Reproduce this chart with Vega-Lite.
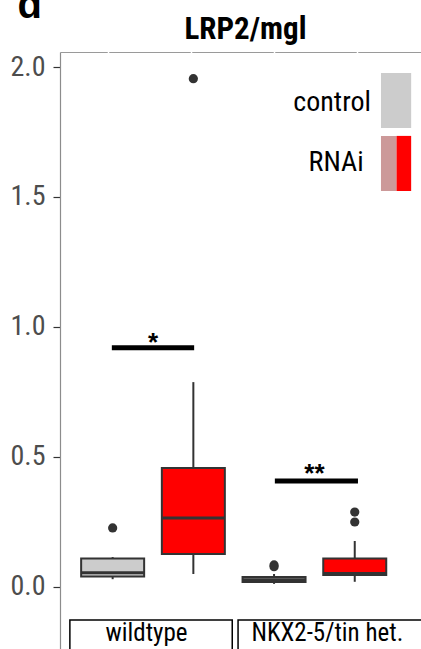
{
  "$schema": "https://vega.github.io/schema/vega-lite/v6.json",
  "width": 361,
  "height": 597,
  "autosize": {"type": "none"},
  "padding": {"left": 60, "top": 52, "right": 0, "bottom": 0},
  "background": "white",
  "config": {"view": {"stroke": null}},
  "datasets": {
    "boxes": [
      {"group": "wildtype", "cond": "control", "pos": 1, "lo": 0.03, "q1": 0.04, "med": 0.055, "q3": 0.11, "hi": 0.115},
      {"group": "wildtype", "cond": "RNAi", "pos": 2, "lo": 0.05, "q1": 0.127, "med": 0.265, "q3": 0.458, "hi": 0.788},
      {"group": "NKX2-5/tin het.", "cond": "control", "pos": 3, "lo": 0.012, "q1": 0.019, "med": 0.028, "q3": 0.038, "hi": 0.05},
      {"group": "NKX2-5/tin het.", "cond": "RNAi", "pos": 4, "lo": 0.02, "q1": 0.046, "med": 0.052, "q3": 0.11, "hi": 0.177}
    ],
    "outliers": [
      {"pos": 2, "v": 1.955},
      {"pos": 1, "v": 0.227},
      {"pos": 3, "v": 0.085},
      {"pos": 3, "v": 0.078},
      {"pos": 4, "v": 0.288},
      {"pos": 4, "v": 0.25}
    ],
    "sig": [
      {"from": 0.99, "to": 2.01, "v": 0.92, "label": "*", "mid": 1.5, "tv": 0.908},
      {"from": 3.01, "to": 4.04, "v": 0.408, "label": "**", "mid": 3.5, "tv": 0.404}
    ],
    "legendRects": [
      {"key": "control", "x1": 4.325, "x2": 4.699, "y1": 1.977, "y2": 1.765},
      {"key": "RNAi_light", "x1": 4.325, "x2": 4.518, "y1": 1.735, "y2": 1.523},
      {"key": "RNAi", "x1": 4.518, "x2": 4.699, "y1": 1.735, "y2": 1.523}
    ],
    "legendText": [
      {"label": "control", "x": 4.2, "y": 1.862},
      {"label": "RNAi", "x": 4.11, "y": 1.631}
    ],
    "strips": [
      {"label": "wildtype", "x1": 0.47, "x2": 2.482, "mid": 1.42, "top": -0.127, "bot": -0.3, "ty": -0.2077},
      {"label": "NKX2-5/tin het.", "x1": 2.554, "x2": 4.9, "mid": 3.66, "top": -0.127, "bot": -0.3, "ty": -0.2077}
    ]
  },
  "layer": [
    {
      "data": {"name": "boxes"},
      "mark": {"type": "rule", "color": "#333333", "strokeWidth": 2},
      "encoding": {
        "x": {"field": "pos", "type": "quantitative",
          "scale": {"domain": [0.4096, 4.759], "nice": false, "zero": false},
          "axis": {"orient": "top", "labels": false, "ticks": false, "grid": false,
            "domain": true, "domainColor": "#9a9a9a", "domainWidth": 1.2,
            "domainDash": [81.5, 1.5], "domainDashOffset": 34.25,
            "title": "LRP2/mgl", "titleFont": "Roboto Condensed, Liberation Sans Narrow, Roboto", "titleFontSize": 31,
            "titleFontWeight": "bold", "titleColor": "black", "titleAlign": "center", "titleBaseline": "alphabetic",
            "titleX": 185, "titleY": -14}},
        "y": {"field": "lo", "type": "quantitative",
          "scale": {"domain": [-0.2385, 2.0577], "nice": false, "zero": false},
          "axis": {"values": [0, 0.5, 1, 1.5, 2], "format": ".1f", "grid": false,
            "domainColor": "#8c8c8c", "domainWidth": 1.2,
            "tickColor": "#333333", "tickSize": 7, "tickWidth": 1.2,
            "labelFont": "Roboto Condensed, Liberation Sans Narrow, Roboto", "labelFontSize": 28, "labelColor": "#4d4d4d", "labelPadding": 8,
            "title": "d", "titleAngle": 0, "titleAlign": "left", "titleBaseline": "alphabetic",
            "titleX": -43, "titleY": -35, "titleFont": "Liberation Sans", "titleFontSize": 40,
            "titleFontWeight": "bold", "titleColor": "black"}},
        "y2": {"field": "hi"}
      }
    },
    {
      "data": {"name": "boxes"},
      "mark": {"type": "bar", "size": 63, "stroke": "#333333", "strokeWidth": 2},
      "encoding": {
        "x": {"field": "pos", "type": "quantitative"},
        "y": {"field": "q1", "type": "quantitative"},
        "y2": {"field": "q3"},
        "fill": {"field": "cond", "type": "nominal",
          "scale": {"domain": ["control", "RNAi", "RNAi_light"], "range": ["#cccccc", "#ff0000", "#cc9999"]},
          "legend": null}
      }
    },
    {
      "data": {"name": "boxes"},
      "mark": {"type": "tick", "orient": "horizontal", "size": 63, "thickness": 3, "color": "#333333", "opacity": 1},
      "encoding": {
        "x": {"field": "pos", "type": "quantitative"},
        "y": {"field": "med", "type": "quantitative"}
      }
    },
    {
      "data": {"name": "outliers"},
      "mark": {"type": "point", "filled": true, "size": 85, "color": "#333333", "opacity": 1},
      "encoding": {
        "x": {"field": "pos", "type": "quantitative"},
        "y": {"field": "v", "type": "quantitative"}
      }
    },
    {
      "data": {"name": "sig"},
      "mark": {"type": "rule", "color": "black", "strokeWidth": 5},
      "encoding": {
        "x": {"field": "from", "type": "quantitative"},
        "x2": {"field": "to"},
        "y": {"field": "v", "type": "quantitative"}
      }
    },
    {
      "data": {"name": "sig"},
      "mark": {"type": "text", "font": "Liberation Sans", "fontSize": 26, "fontWeight": "bold", "color": "black", "baseline": "alphabetic", "align": "center"},
      "encoding": {
        "x": {"field": "mid", "type": "quantitative"},
        "y": {"field": "tv", "type": "quantitative"},
        "text": {"field": "label"}
      }
    },
    {
      "data": {"name": "legendRects"},
      "mark": {"type": "rect"},
      "encoding": {
        "x": {"field": "x1", "type": "quantitative"},
        "x2": {"field": "x2"},
        "y": {"field": "y1", "type": "quantitative"},
        "y2": {"field": "y2"},
        "fill": {"field": "key", "type": "nominal", "legend": null}
      }
    },
    {
      "data": {"name": "legendText"},
      "mark": {"type": "text", "font": "Roboto Condensed, Liberation Sans Narrow, Roboto", "fontSize": 28, "color": "black", "align": "right", "baseline": "middle"},
      "encoding": {
        "x": {"field": "x", "type": "quantitative"},
        "y": {"field": "y", "type": "quantitative"},
        "text": {"field": "label"}
      }
    },
    {
      "data": {"name": "strips"},
      "mark": {"type": "rect", "fill": "white", "stroke": "black", "strokeWidth": 1.5},
      "encoding": {
        "x": {"field": "x1", "type": "quantitative"},
        "x2": {"field": "x2"},
        "y": {"field": "top", "type": "quantitative"},
        "y2": {"field": "bot"}
      }
    },
    {
      "data": {"name": "strips"},
      "mark": {"type": "text", "font": "Roboto Condensed, Liberation Sans Narrow, Roboto", "fontSize": 25, "color": "black", "align": "center", "baseline": "alphabetic"},
      "encoding": {
        "x": {"field": "mid", "type": "quantitative"},
        "y": {"field": "ty", "type": "quantitative"},
        "text": {"field": "label"}
      }
    }
  ]
}
